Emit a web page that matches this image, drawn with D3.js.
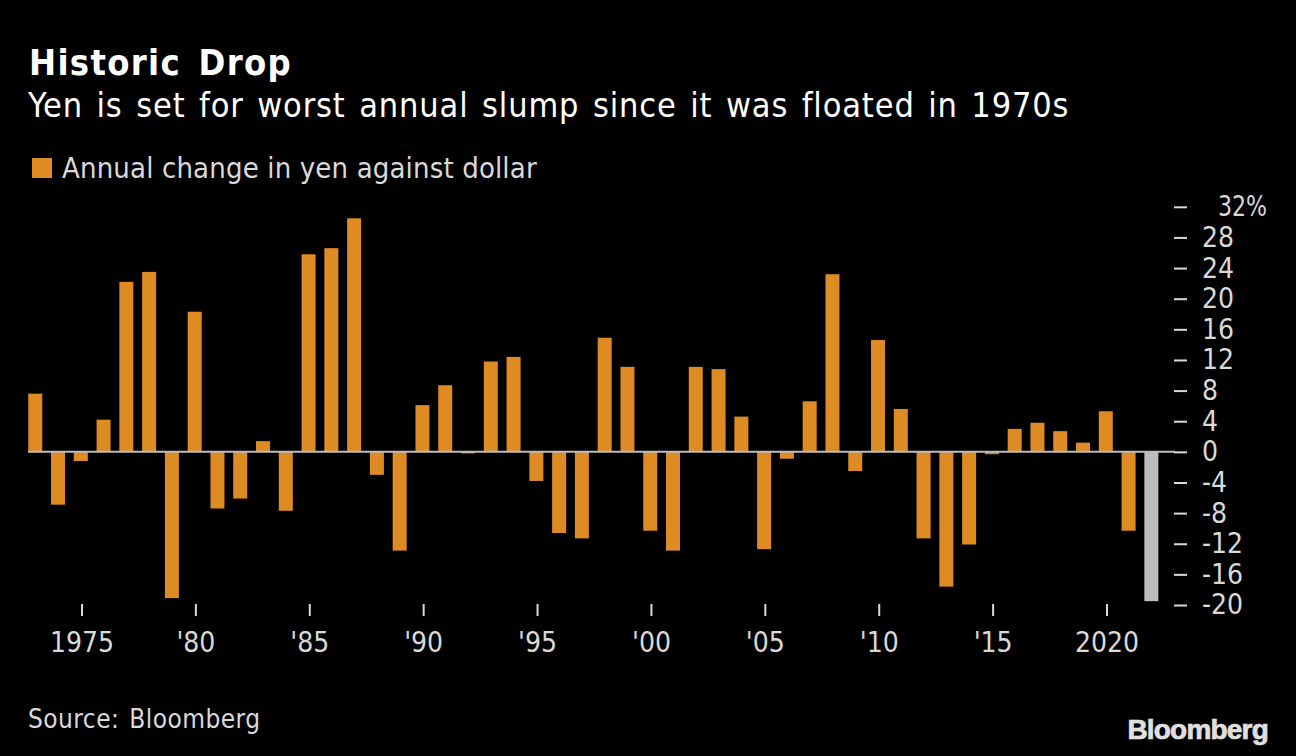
<!DOCTYPE html>
<html><head><meta charset="utf-8">
<script src="https://cdn.jsdelivr.net/npm/d3@7"></script>
<style>
html,body{margin:0;padding:0;background:#000;overflow:hidden}
text{font-family:"DejaVu Sans Condensed","DejaVu Sans",sans-serif}
</style></head><body>
<svg id="c" width="1296" height="756"></svg>
<script>
const titleText="Historic Drop";
const subtitleText="Yen is set for worst annual slump since it was floated in 1970s";
const legendText="Annual change in yen against dollar";
const sourceText="Source: Bloomberg";
const logoText="Bloomberg";
const years=d3.range(1973,2023);
const changes=[7.6,-6.9,-1.2,4.2,22.2,23.5,-19.1,18.3,-7.4,-6.1,1.4,-7.7,25.8,26.6,30.5,-3.0,-12.9,6.1,8.7,-0.2,11.8,12.4,-3.8,-10.6,-11.3,14.9,11.1,-10.3,-12.9,11.1,10.8,4.6,-12.7,-0.9,6.6,23.2,-2.5,14.6,5.6,-11.3,-17.6,-12.1,-0.3,3.0,3.8,2.7,1.2,5.3,-10.3,-19.5];
const estimateYear=2022;
const yTicks=[32,28,24,20,16,12,8,4,0,-4,-8,-12,-16,-20];
const xTicks=[1975,1980,1985,1990,1995,2000,2005,2010,2015,2020];
const xLabels=["1975","'80","'85","'90","'95","'00","'05","'10","'15","2020"];

const svg=d3.select("#c");
const x=d3.scaleLinear().domain([1975,2020]).range([81.5,1106.5]);
const y=d3.scaleLinear().domain([-20,32]).range([605,206.8]);
const bw=14;
const orange="#de8b24",grey="#bdbdbd",txt="#d9d9d9";

svg.append("text").attr("x",29).attr("y",75).attr("fill","#fff").attr("font-size",36).attr("font-weight",700)
 .attr("letter-spacing",1.3).attr("word-spacing",5).text(titleText);
svg.append("text").attr("x",28).attr("y",117).attr("fill","#fff").attr("font-size",34)
 .attr("letter-spacing",0.85).attr("word-spacing",3).text(subtitleText);
svg.append("rect").attr("x",32).attr("y",158).attr("width",20).attr("height",20).attr("fill",orange);
svg.append("text").attr("x",62).attr("y",178).attr("fill",txt).attr("font-size",29)
 .attr("letter-spacing",0.14).text(legendText);

svg.append("g").attr("transform","translate(-0.7,0)").selectAll("rect").data(years).join("rect")
 .attr("x",d=>x(d)-bw/2).attr("width",bw)
 .attr("y",(d,i)=>y(Math.max(0,changes[i])))
 .attr("height",(d,i)=>Math.abs(y(changes[i])-y(0)))
 .attr("fill",d=>d===estimateYear?grey:orange);

svg.append("line").attr("x1",28).attr("x2",1175).attr("y1",y(0)).attr("y2",y(0)).attr("stroke","#bdbdbd").attr("stroke-width",2);

const yAxis=d3.axisRight(y).tickValues(yTicks).tickSize(13).tickPadding(15)
 .tickFormat(d=>d===32?"32%":String(d));
const gy=svg.append("g").attr("transform","translate(1174,0)").call(yAxis);
gy.select(".domain").remove();
gy.selectAll("line").attr("stroke",txt).attr("stroke-width",2);
gy.selectAll("text").attr("fill",txt).attr("font-size",28).attr("font-family",'"DejaVu Sans Condensed"')
 .attr("dx",d=>d===32?16:0);
gy.selectAll("text").filter(d=>d===32).attr("textLength",49).attr("lengthAdjust","spacingAndGlyphs");

const xAxis=d3.axisBottom(x).tickValues(xTicks).tickSize(12).tickPadding(16)
 .tickFormat((d,i)=>xLabels[i]);
const gx=svg.append("g").attr("transform","translate(0,604)").call(xAxis);
gx.select(".domain").remove();
gx.selectAll("line").attr("stroke",txt).attr("stroke-width",2);
gx.selectAll("text").attr("fill",txt).attr("font-size",28).attr("font-family",'"DejaVu Sans Condensed"');

svg.append("text").attr("x",28).attr("y",728).attr("fill",txt).attr("font-size",26)
 .attr("letter-spacing",0.45).attr("word-spacing",2).text(sourceText);
svg.append("text").attr("x",1268).attr("y",739).attr("text-anchor","end").attr("fill","#e0e0e0")
 .attr("stroke","#e0e0e0").attr("stroke-width",0.7)
 .attr("font-size",28).attr("font-weight",700).style("font-family",'"Liberation Sans"').attr("letter-spacing",-0.8).text(logoText);
</script></body></html>
